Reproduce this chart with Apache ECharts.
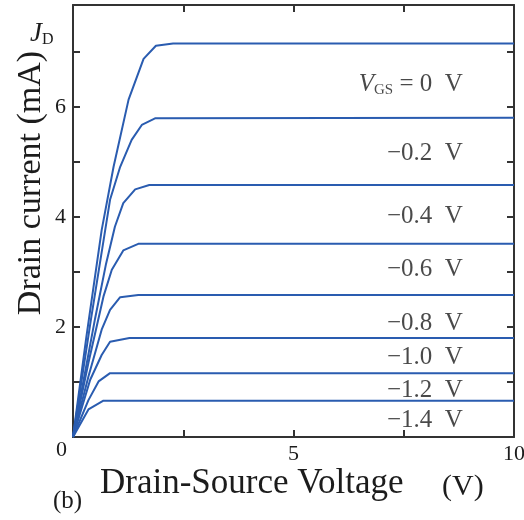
<!DOCTYPE html>
<html>
<head>
<meta charset="utf-8">
<script src="https://cdn.jsdelivr.net/npm/echarts@6/dist/echarts.min.js"></script>
<style>
  html, body { margin: 0; padding: 0; background: #fff; }
  #chart { width: 524px; height: 520px; }
</style>
</head>
<body>
<div id="chart"></div>
<script>
// gate voltages and the read-off curves [Vds, Id]
const gateLabels = ['VGS = 0 V', '−0.2  V', '−0.4  V', '−0.6  V', '−0.8  V', '−1.0  V', '−1.2  V', '−1.4  V'];
const curve0 = [[0, 0], [0.3, 1.8], [0.65, 3.76], [0.92, 4.91], [1.26, 6.13], [1.6, 6.87], [1.88, 7.11], [2.27, 7.15], [10, 7.15]];
const curve02 = [[0, 0], [0.4, 2.1], [0.73, 3.76], [0.84, 4.31], [1.07, 4.91], [1.33, 5.4], [1.56, 5.67], [1.86, 5.79], [10, 5.8]];
const curve04 = [[0, 0], [0.5, 2.15], [0.75, 3.15], [0.95, 3.82], [1.14, 4.25], [1.41, 4.5], [1.73, 4.58], [10, 4.58]];
const curve06 = [[0, 0], [0.35, 1.35], [0.69, 2.55], [0.88, 3.04], [1.14, 3.39], [1.48, 3.51], [10, 3.51]];
const curve08 = [[0, 0], [0.35, 1.1], [0.65, 1.95], [0.84, 2.31], [1.07, 2.54], [1.48, 2.58], [10, 2.58]];
const curve10 = [[0, 0], [0.39, 1.04], [0.65, 1.49], [0.84, 1.73], [1.28, 1.8], [10, 1.8]];
const curve12 = [[0, 0], [0.35, 0.67], [0.58, 1.01], [0.84, 1.16], [10, 1.16]];
const curve14 = [[0, 0], [0.35, 0.5], [0.69, 0.66], [10, 0.66]];
const curves = [curve0, curve02, curve04, curve06, curve08, curve10, curve12, curve14];
// where each gate label sits (right edge x, middle y) in data units
const labelX = [8.84, 8.84, 8.84, 8.84, 8.84, 8.84, 8.84, 8.84];
const labelY = [6.4, 5.16, 4.0, 3.04, 2.07, 1.44, 0.85, 0.31];
const yTicksShown = [2, 4, 6];
const xTicksShown = [5, 10];

const serif = '"Liberation Serif", "Times New Roman", serif';
const ink = '#1c1c1c';
const blue = '#2a5cb0';

const chart = echarts.init(document.getElementById('chart'));

const lineSeries = curves.map(function (c) {
    return {
        type: 'line',
        data: c,
        symbol: 'none',
        smooth: false,
        lineStyle: { color: blue, width: 2 },
        silent: true
    };
});

const labelSeries = {
    type: 'scatter',
    symbolSize: 0,
    silent: true,
    data: gateLabels.map(function (t, i) { return { value: [labelX[i], labelY[i]], name: t }; }),
    label: {
        show: true,
        position: 'left',
        distance: 0,
        fontFamily: serif,
        fontSize: 25,
        color: ink,
        formatter: function (p) {
            if (p.dataIndex === 0) return '{v|V}{s|GS}{n| = 0  V}';
            return p.name;
        },
        rich: {
            v: { fontFamily: serif, fontSize: 25, fontStyle: 'italic', color: ink },
            s: { fontFamily: serif, fontSize: 15, color: ink, padding: [10, 0, 0, 0] },
            n: { fontFamily: serif, fontSize: 25, color: ink }
        }
    }
};

const axisLineStyle = { color: '#333', width: 2 };

const option = {
    animation: false,
    backgroundColor: '#fff',
    grid: { left: 73, right: 10, top: 5, bottom: 83, outerBoundsMode: 'none', containLabel: false },
    xAxis: [
        {
            type: 'value', min: 0, max: 10, interval: 2.5,
            axisLine: { show: true, onZero: false, lineStyle: axisLineStyle },
            axisTick: { show: true, inside: true, length: 7, lineStyle: axisLineStyle },
            splitLine: { show: false },
            axisLabel: {
                fontFamily: serif, fontSize: 22, color: ink, margin: 6,
                formatter: function (v) { return xTicksShown.indexOf(v) >= 0 ? String(v) : ''; }
            }
        },
        {
            type: 'value', position: 'top', min: 0, max: 10, interval: 2.5,
            axisLine: { show: true, onZero: false, lineStyle: axisLineStyle },
            axisTick: { show: true, inside: true, length: 7, lineStyle: axisLineStyle },
            axisLabel: { show: false },
            splitLine: { show: false }
        }
    ],
    yAxis: [
        {
            type: 'value', min: 0, max: 7.85, interval: 1,
            axisLine: { show: true, onZero: false, lineStyle: axisLineStyle },
            axisTick: { show: true, inside: true, length: 7, lineStyle: axisLineStyle },
            splitLine: { show: false },
            axisLabel: {
                fontFamily: serif, fontSize: 22, color: ink, margin: 7,
                showMaxLabel: false,
                formatter: function (v) { return yTicksShown.indexOf(v) >= 0 ? String(v) : ''; }
            }
        },
        {
            type: 'value', position: 'right', min: 0, max: 7.85, interval: 1,
            axisLine: { show: true, onZero: false, lineStyle: axisLineStyle },
            axisTick: { show: true, inside: true, length: 7, lineStyle: axisLineStyle },
            axisLabel: { show: false },
            splitLine: { show: false }
        }
    ],
    graphic: [
        {
            type: 'text', x: 31, y: 183, rotation: Math.PI / 2,
            style: {
                text: 'Drain current (mA)', fontFamily: serif, fontSize: 34, fill: ink,
                align: 'center', verticalAlign: 'middle'
            }
        },
        {
            type: 'text', left: 30, top: 20,
            style: {
                text: '{j|J}{d|D}',
                rich: {
                    j: { fontFamily: serif, fontSize: 27, fontStyle: 'italic', fill: ink },
                    d: { fontFamily: serif, fontSize: 16, fill: ink, padding: [13, 0, 0, 0] }
                }
            }
        },
        {
            type: 'text', left: 56, top: 439,
            style: { text: '0', fontFamily: serif, fontSize: 22, fill: ink }
        },
        {
            type: 'text', left: 100, top: 466,
            style: { text: 'Drain-Source Voltage', fontFamily: serif, fontSize: 35, fill: ink }
        },
        {
            type: 'text', left: 442, top: 472,
            style: { text: '(V)', fontFamily: serif, fontSize: 30, fill: ink }
        },
        {
            type: 'text', left: 53, top: 489,
            style: { text: '(b)', fontFamily: serif, fontSize: 25, fill: ink }
        }
    ],
    series: lineSeries.concat([labelSeries])
};

chart.setOption(option);
</script>
</body>
</html>
